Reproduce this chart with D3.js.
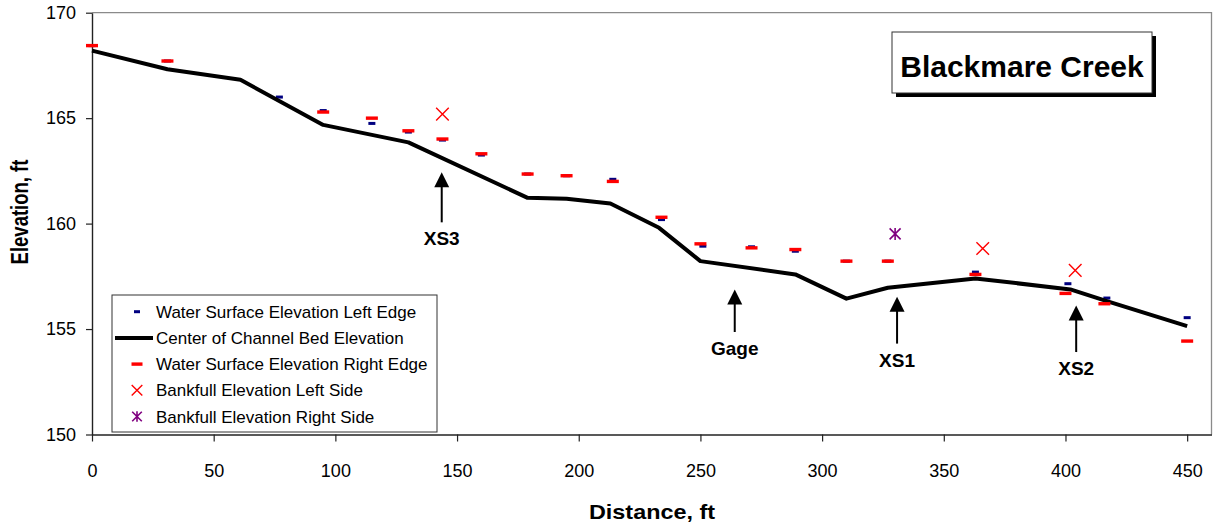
<!DOCTYPE html>
<html>
<head>
<meta charset="utf-8">
<script src="https://cdn.jsdelivr.net/npm/d3@7"></script>
<style>
body { margin: 0; background: #fff; }
svg { display: block; font-family: Arial, "Liberation Sans", sans-serif; }
</style>
</head>
<body>
<script>
// channel bed centre line
var bedDist = [0, 31, 61, 95, 130, 179, 195, 213, 233, 250, 289, 310, 327, 363, 402, 417, 450];
var bedElev = [168.2, 167.32, 166.82, 164.68, 163.85, 161.22, 161.18, 160.95, 159.8, 158.22, 157.59, 156.44, 156.96, 157.4, 156.88, 156.32, 155.14];

// water surface, left edge (blue) and right edge (red)
var leftDist = [0, 31, 77, 95, 115, 130, 144, 160, 179, 195, 214, 234, 251, 271, 289, 310, 327, 363, 401, 417, 450];
var leftElev = [168.44, 167.71, 166.0, 165.36, 164.75, 164.34, 163.96, 163.25, 162.35, 162.27, 162.1, 160.19, 158.93, 158.9, 158.69, 158.22, 158.22, 157.7, 157.15, 156.47, 155.54];
var rightDist = [0, 31, 95, 115, 130, 144, 160, 179, 195, 214, 234, 250, 271, 289, 310, 327, 363, 400, 416, 450];
var rightElev = [168.44, 167.71, 165.29, 165.0, 164.4, 164.01, 163.31, 162.35, 162.27, 162.0, 160.3, 159.04, 158.85, 158.77, 158.22, 158.22, 157.59, 156.69, 156.2, 154.43];

// bankfull
var bankLeftDist = [144, 366, 404];
var bankLeftElev = [165.19, 158.82, 157.78];
var bankRightDist = [330];
var bankRightElev = [159.51];

// arrows
var noteLabels = ["XS3", "Gage", "XS1", "XS2"];
var noteDist = [143.7, 264.1, 330.8, 404.4];
var noteTip = [162.43, 156.88, 156.53, 156.12];
var noteTail = [160.06, 154.86, 154.31, 153.91];

var xTicks = [0, 50, 100, 150, 200, 250, 300, 350, 400, 450];
var yTicks = [150, 155, 160, 165, 170];

var legendLabels = ["Water Surface Elevation Left Edge", "Center of Channel Bed Elevation",
	"Water Surface Elevation Right Edge", "Bankfull Elevation Left Side", "Bankfull Elevation Right Side"];

var W = 1216, H = 525;
var svg = d3.select("body").append("svg").attr("width", W).attr("height", H);

var x = d3.scaleLinear().domain([0, 460]).range([92, 1211.5]);
var y = d3.scaleLinear().domain([150, 170]).range([434.5, 12.7]);

function zip(a, b) { return a.map(function(v, i) { return [v, b[i]]; }); }

// plot frame (top/right grey)
svg.append("path")
	.attr("d", "M" + x(0) + "," + y(170) + "H" + x(460) + "V" + y(150))
	.attr("fill", "none").attr("stroke", "#8a8a8a").attr("stroke-width", 1.3);

// axes
var xAxis = svg.append("g").attr("transform", "translate(0," + y(150) + ")")
	.call(d3.axisBottom(x).tickValues(xTicks).tickSize(7).tickPadding(23).tickSizeOuter(0));
var yAxis = svg.append("g").attr("transform", "translate(" + x(0) + ",0)")
	.call(d3.axisLeft(y).tickValues(yTicks).tickSize(6).tickPadding(10).tickSizeOuter(0));
[xAxis, yAxis].forEach(function(a) {
	a.select(".domain").attr("stroke", "#222").attr("stroke-width", 1.4);
	a.selectAll(".tick line").attr("stroke", "#222").attr("stroke-width", 1.2);
	a.selectAll(".tick text").attr("font-size", 18).attr("fill", "#000")
		.attr("font-family", "Arial, 'Liberation Sans', sans-serif");
});

// axis titles (a bit stretched sideways, as in the original)
svg.append("text").attr("transform", "translate(652,519) scale(1.17,1)").attr("text-anchor", "middle")
	.attr("font-size", 20).attr("font-weight", "bold").text("Distance, ft");
svg.append("text").attr("transform", "translate(28,212) rotate(-90) scale(1,1.25)").attr("text-anchor", "middle")
	.attr("font-size", 18.5).attr("font-weight", "bold").text("Elevation, ft");

// blue dashes
svg.append("g").selectAll("rect").data(zip(leftDist, leftElev)).enter().append("rect")
	.attr("x", function(d) { return x(d[0]) - 3.5; })
	.attr("y", function(d) { return y(d[1]) - 1.5; })
	.attr("width", 7).attr("height", 3).attr("fill", "#000080");

// bed line
svg.append("path").datum(zip(bedDist, bedElev))
	.attr("d", d3.line().x(function(d) { return x(d[0]); }).y(function(d) { return y(d[1]); }))
	.attr("fill", "none").attr("stroke", "#000").attr("stroke-width", 4).attr("stroke-linejoin", "round");

// red dashes
svg.append("g").selectAll("rect").data(zip(rightDist, rightElev)).enter().append("rect")
	.attr("x", function(d) { return x(d[0]) - 6; })
	.attr("y", function(d) { return y(d[1]) - 1.7; })
	.attr("width", 12).attr("height", 3.4).attr("fill", "#ff0000");

function cross(s) { return "M" + (-s) + "," + (-s) + "L" + s + "," + s + "M" + (-s) + "," + s + "L" + s + "," + (-s); }
function star(s) { return cross(s) + "M0," + (-s * 1.1) + "V" + (s * 1.1); }

svg.append("g").selectAll("path").data(zip(bankLeftDist, bankLeftElev)).enter().append("path")
	.attr("transform", function(d) { return "translate(" + x(d[0]) + "," + y(d[1]) + ")"; })
	.attr("d", cross(6.3)).attr("stroke", "#ff0000").attr("stroke-width", 1.4).attr("fill", "none");
svg.append("g").selectAll("path").data(zip(bankRightDist, bankRightElev)).enter().append("path")
	.attr("transform", function(d) { return "translate(" + x(d[0]) + "," + y(d[1]) + ")"; })
	.attr("d", star(5.5)).attr("stroke", "#800080").attr("stroke-width", 1.6).attr("fill", "none");

// arrows and labels
var notes = svg.append("g").selectAll("g").data(noteLabels).enter().append("g");
notes.append("line")
	.attr("x1", function(d, i) { return x(noteDist[i]); })
	.attr("x2", function(d, i) { return x(noteDist[i]); })
	.attr("y1", function(d, i) { return y(noteTail[i]); })
	.attr("y2", function(d, i) { return y(noteTip[i]) + 10; })
	.attr("stroke", "#000").attr("stroke-width", 2);
notes.append("path")
	.attr("transform", function(d, i) { return "translate(" + x(noteDist[i]) + "," + y(noteTip[i]) + ")"; })
	.attr("d", "M0,0L7.5,15L-7.5,15Z").attr("fill", "#000");
notes.append("text")
	.attr("x", function(d, i) { return x(noteDist[i]); })
	.attr("y", function(d, i) { return y(noteTail[i]) + 23; })
	.attr("text-anchor", "middle").attr("font-size", 19).attr("font-weight", "bold")
	.text(function(d) { return d; });

// title box
svg.append("rect").attr("x", 896).attr("y", 36).attr("width", 260).attr("height", 61).attr("fill", "#000");
svg.append("rect").attr("x", 892).attr("y", 32).attr("width", 260).attr("height", 61)
	.attr("fill", "#fff").attr("stroke", "#333").attr("stroke-width", 1);
svg.append("text").attr("x", 1022).attr("y", 77).attr("text-anchor", "middle")
	.attr("font-size", 30).attr("font-weight", "bold").text("Blackmare Creek");

// legend
var lg = svg.append("g");
lg.append("rect").attr("x", 112).attr("y", 295).attr("width", 325).attr("height", 137)
	.attr("fill", "#fff").attr("stroke", "#333").attr("stroke-width", 1);
var rowY = function(i) { return 311.7 + i * 26.2; };
lg.selectAll("text").data(legendLabels).enter().append("text")
	.attr("x", 156).attr("y", function(d, i) { return rowY(i) + 6; })
	.attr("font-size", 17).text(function(d) { return d; });
lg.append("rect").attr("x", 134).attr("y", rowY(0) - 1.5).attr("width", 6).attr("height", 3).attr("fill", "#000080");
lg.append("line").attr("x1", 115).attr("x2", 153).attr("y1", rowY(1)).attr("y2", rowY(1))
	.attr("stroke", "#000").attr("stroke-width", 4);
lg.append("rect").attr("x", 131.5).attr("y", rowY(2) - 1.7).attr("width", 11).attr("height", 3.4).attr("fill", "#ff0000");
lg.append("path").attr("transform", "translate(137," + rowY(3) + ")").attr("d", cross(5.3))
	.attr("stroke", "#ff0000").attr("stroke-width", 1.4).attr("fill", "none");
lg.append("path").attr("transform", "translate(137," + rowY(4) + ")").attr("d", star(4.8))
	.attr("stroke", "#800080").attr("stroke-width", 1.6).attr("fill", "none");
</script>
</body>
</html>
